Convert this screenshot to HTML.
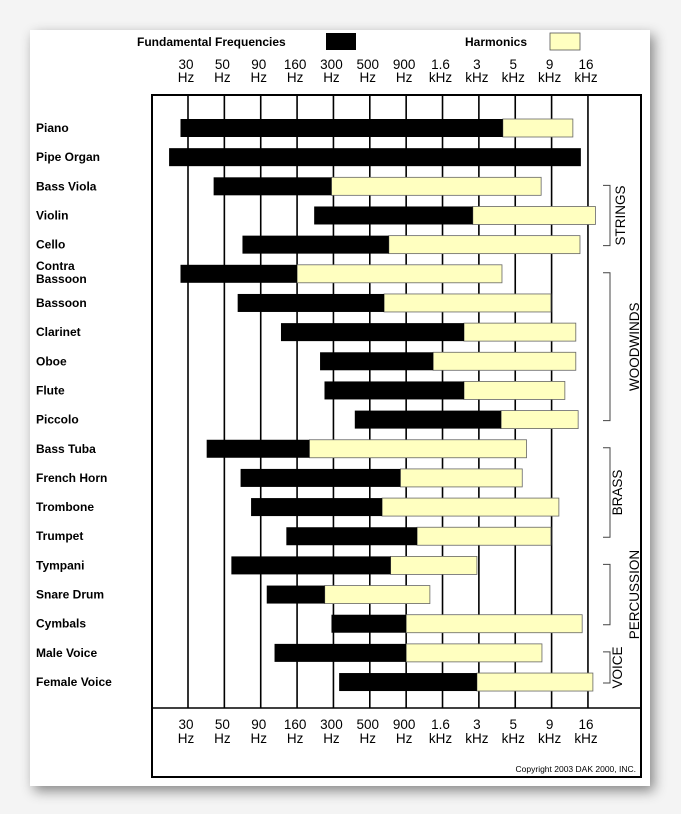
<!DOCTYPE html>
<html><head><meta charset="utf-8"><style>
html,body{margin:0;padding:0;background:#f4f4f4;}
body{width:681px;height:814px;position:relative;overflow:hidden;font-family:"Liberation Sans",Arial,sans-serif;}
#card{position:absolute;left:30px;top:30px;width:620px;height:756px;background:#fff;box-shadow:4px 5px 12px rgba(0,0,0,0.45);}
svg{position:absolute;left:0;top:0;}
</style></head><body>
<div id="card"></div>
<svg id="chart" width="681" height="814"></svg>
<script>
const tickFreqs=[30,50,90,160,300,500,900,1600,3000,5000,9000,16000];
const tickTop=["30","50","90","160","300","500","900","1.6","3","5","9","16"];
const tickBottom=["Hz","Hz","Hz","Hz","Hz","Hz","Hz","kHz","kHz","kHz","kHz","kHz"];
const instruments=["Piano","Pipe Organ","Bass Viola","Violin","Cello","Contra|Bassoon","Bassoon","Clarinet","Oboe","Flute","Piccolo","Bass Tuba","French Horn","Trombone","Trumpet","Tympani","Snare Drum","Cymbals","Male Voice","Female Voice"];
const fundLow=[27,23,43,215,67,27,62,124,238,257,405,39,65,77,135,56,99,290,112,325];
const fundHigh=[4200,14300,290,2700,680,160,630,2320,1380,2320,4100,198,820,610,1070,700,258,900,900,2900];
const harmHigh=[12600,14300,7600,18000,14100,4150,8900,13200,13200,11100,13700,6000,5600,10100,8900,2900,1310,14600,7700,17300];
const groups=["STRINGS","WOODWINDS","BRASS","PERCUSSION","VOICE"];
const groupStart=[2,5,11,15,18];
const groupEnd=[4,10,14,17,19];

const NS="http://www.w3.org/2000/svg";
const svg=document.getElementById('chart');
function el(t,a,p){const e=document.createElementNS(NS,t);for(const k in a)e.setAttribute(k,a[k]);(p||svg).appendChild(e);return e;}
const X0=188,DX=36.36;
function xScale(f){
  const L=tickFreqs.map(Math.log);const lf=Math.log(f);
  let i=0;
  if(lf<=L[0])i=0;else if(lf>=L[L.length-1])i=L.length-2;else{while(lf>L[i+1])i++;}
  return X0+DX*(i+(lf-L[i])/(L[i+1]-L[i]));
}
function yScale(r){return 128+r*29.16;}

let t=el('text',{x:137,y:46,'font-size':12,'font-weight':'bold'});t.textContent="Fundamental Frequencies";

let r=el('rect',{x:326,y:33,width:30,height:17,fill:'#000'});

t=el('text',{x:465,y:46,'font-size':12,'font-weight':'bold'});t.textContent="Harmonics";

r=el('rect',{x:550,y:33,width:30,height:17,fill:'#ffffc0',stroke:'#555','stroke-width':0.8});


r=el('rect',{x:152,y:95,width:489,height:682,fill:'none',stroke:'#000','stroke-width':2});

let ln=el('line',{x1:152,x2:641,y1:708,y2:708,stroke:'#000','stroke-width':1.5});


tickFreqs.forEach((f,i)=>{
  const x=xScale(f);
  const g=el('line',{x1:x,x2:x,y1:95,y2:708,stroke:'#000','stroke-width':1.6});
  
  [[69,82],[729,743]].forEach(([y1,y2],k)=>{
    const a=el('text',{x:x-2,y:y1,'font-size':13.5,'text-anchor':'middle'});a.textContent=tickTop[i];
    
    const b=el('text',{x:x-2,y:y2,'font-size':13.5,'text-anchor':'middle'});b.textContent=tickBottom[i];
    
  });
});

instruments.forEach((name,i)=>{
  const y=yScale(i);
  const parts=name.split('|');
  if(parts.length>1){
    parts.forEach((p,k)=>{const a=el('text',{x:36,y:y-4+k*13,'font-size':12,'font-weight':'bold'});a.textContent=p;
      });
  } else {
    const a=el('text',{x:36,y:y+4,'font-size':12,'font-weight':'bold'});a.textContent=name;
    
  }
  const xs=xScale(fundLow[i]),xm=xScale(fundHigh[i]),xe=xScale(harmHigh[i]);
  if(xe>xm){
    const h=el('rect',{x:xm,y:y-9,width:xe-xm,height:18,fill:'#ffffc0',stroke:'#666','stroke-width':0.8});
    
  }
  const b=el('rect',{x:xs,y:y-9,width:xm-xs,height:18,fill:'#000'});
  
});

const textX=[620,634,617,634,617];
groups.forEach((g,i)=>{
  const y1=yScale(groupStart[i])-1,y2=yScale(groupEnd[i])+1;
  const p=el('path',{d:`M603 ${y1} H610 V${y2} H603`,fill:'none',stroke:'#444','stroke-width':1});
  
  const cy=(y1+y2)/2, cx=textX[i];
  const a=el('text',{x:cx,y:cy,'font-size':13.5,'text-anchor':'middle',transform:`rotate(-90 ${cx} ${cy})`,dy:5});
  a.textContent=g;
  
});

t=el('text',{x:636,y:772,'font-size':8.5,'text-anchor':'end'});t.textContent="Copyright 2003 DAK 2000, INC.";

</script>
</body></html>
